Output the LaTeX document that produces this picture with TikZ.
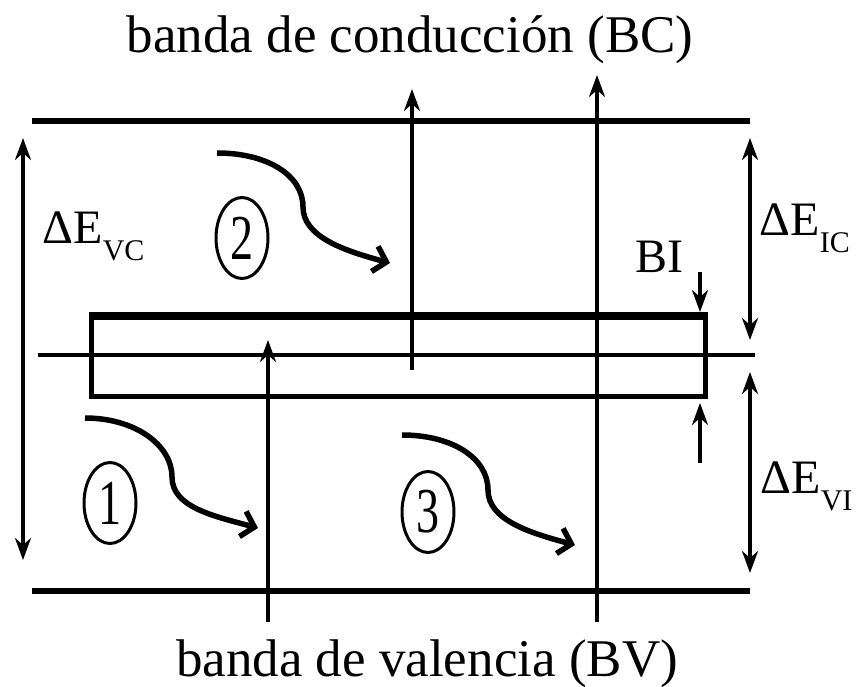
\documentclass[tikz,border=0pt]{standalone}
\usepackage{fontspec}
\usepackage{graphicx}
\setmainfont{Liberation Serif}
\usetikzlibrary{arrows.meta,shapes.geometric}
\begin{document}
\begin{tikzpicture}[x=1pt,y=-1pt,
  band/.style={line width=6.5pt},
  midband/.style={line width=4.5pt},
  boxstyle/.style={draw,line width=4.5pt,inner sep=0pt,minimum width=614pt,minimum height=79pt,anchor=north west},
  uparrow/.style={line width=3.5pt,-{Stealth[length=22pt,width=16pt,inset=7pt]}},
  dblarrow/.style={line width=3.5pt,{Stealth[length=22pt,width=16pt,inset=7pt]}-{Stealth[length=22pt,width=16pt,inset=7pt]}},
  trap/.style={line width=5.5pt,-{Straight Barb[length=12pt,width=26pt]}},
  num/.style={draw,ellipse,line width=3pt,minimum width=52pt,minimum height=81pt,inner sep=0pt,font=\fontsize{64}{64}\selectfont},
  title/.style={font=\fontsize{53}{53}\selectfont,inner sep=0pt},
  lab/.style={font=\fontsize{48}{48}\selectfont,inner sep=0pt},
  sub/.style={font=\fontsize{30}{30}\selectfont,inner sep=0pt}
]
\useasboundingbox (0,0) rectangle (856,687);
% bands
\coordinate (tl) at (32,121); \coordinate (tr) at (750,121);
\coordinate (bl) at (32,591); \coordinate (br) at (750,591);
\coordinate (ml) at (38,355); \coordinate (mr) at (755,355);
\draw[band] (tl) -- (tr);
\draw[band] (bl) -- (br);
\draw[midband] (ml) -- (mr);
% intermediate band box
\node[boxstyle] (bi) at (89,315) {};
\draw[line width=7pt] (bi.north west) -- (bi.north east);
% vertical transitions
\coordinate (a1) at (412,370); \coordinate (a2) at (412,89);
\coordinate (b1) at (597,622); \coordinate (b2) at (597,75);
\coordinate (c1) at (268,622); \coordinate (c2) at (268,340);
\draw[uparrow] (a1) -- (a2);
\draw[uparrow] (b1) -- (b2);
\draw[uparrow] (c1) -- (c2);
% energy gaps
\coordinate (vc1) at (23,138); \coordinate (vc2) at (23,560);
\draw[dblarrow] (vc1) -- (vc2);
\coordinate (ic1) at (750,138); \coordinate (ic2) at (750,340);
\draw[dblarrow] (ic1) -- (ic2);
\coordinate (vi1) at (750,372); \coordinate (vi2) at (750,573);
\draw[dblarrow] (vi1) -- (vi2);
% BI width arrows
\coordinate (bd1) at (700,272); \coordinate (bd2) at (700,312);
\coordinate (bu1) at (700,463); \coordinate (bu2) at (700,403);
\draw[uparrow] (bd1) -- (bd2);
\draw[uparrow] (bu1) -- (bu2);
% labels
\node[title,anchor=base] (bc) at (410,53) {banda de conducción (BC)};
\node[title,anchor=base] (bv) at (427,676) {banda de valencia (BV)};
\node[lab,anchor=base east] (bilab) at (684,272) {BI};
\node[lab,anchor=base west] (dvc) at (42,243) {ΔE};
\node[sub,anchor=base west] (dvcs) at (dvc.base east) [yshift=-17pt] {VC};
\node[lab,anchor=base west] (dic) at (759,235) {ΔE};
\node[sub,anchor=base west] (dics) at (dic.base east) [yshift=-17pt] {IC};
\node[lab,anchor=base west] (dvi) at (760,493) {ΔE};
\node[sub,anchor=base west] (dvis) at (dvi.base east) [yshift=-17pt] {VI};
% numbered processes
\node[num] (n1) at (110,503) {\scalebox{0.72}[1]{1}};
\node[num] (n2) at (242,238) {\scalebox{0.72}[1]{2}};
\node[num] (n3) at (428,512) {\scalebox{0.72}[1]{3}};
\coordinate (s1) at (85,418); \coordinate (m1) at (172,477); \coordinate (e1) at (258,528);
\coordinate (s2) at (217,153); \coordinate (m2) at (303,207); \coordinate (e2) at (390,263);
\coordinate (s3) at (402,435); \coordinate (m3) at (488,490); \coordinate (e3) at (575,545);
\foreach \i in {1,2,3}{
  \draw[trap] (s\i) .. controls +(50,0) and +(0,-32) .. (m\i) .. controls +(0,30) and +(-45,-12) .. (e\i);
}
\end{tikzpicture}
\end{document}
